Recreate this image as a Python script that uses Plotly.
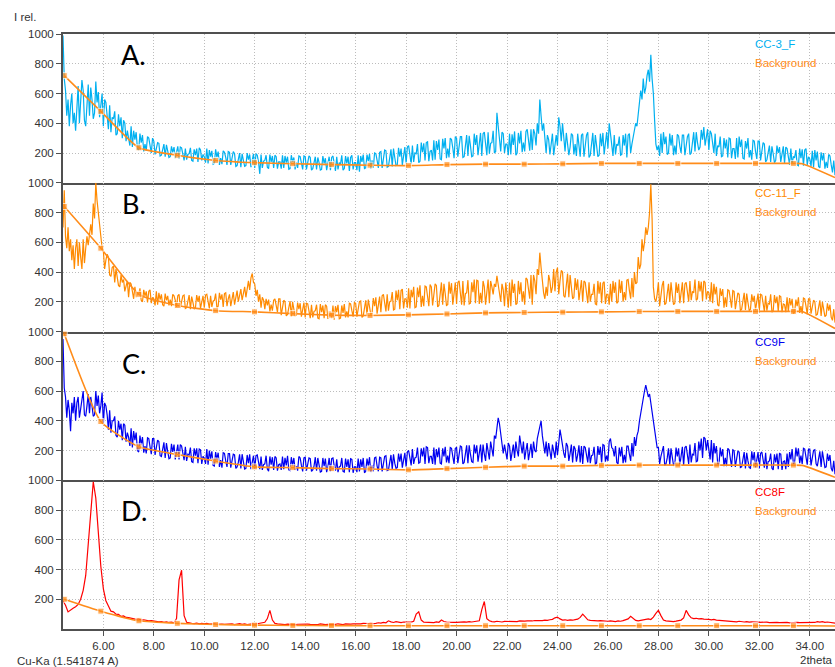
import numpy as np
import plotly.graph_objects as go
from plotly.subplots import make_subplots

# measurement grids (2theta)
theta_fine = np.round(np.arange(4.40, 35.025, 0.05), 2)   # 613 points, panels A-C
theta_coarse = np.round(np.arange(4.4, 35.05, 0.1), 1)    # 307 points, panel D

# ---- CC-3_F (panel A), 0.05 deg ----
cc3_rows = [
    [990, 700, 620, 450, 560, 380, 520, 600, 400, 470, 350, 540],
    [650, 400, 540, 690, 620, 420, 380, 520, 660, 450, 640, 560, 430, 470, 680, 540, 610, 440, 520, 600],
    [380, 560, 540, 460, 360, 520, 340, 440, 430, 480, 320, 330, 460, 380, 440, 300, 420, 400, 280, 350],
    [310, 250, 380, 240, 350, 290, 340, 230, 220, 330, 270, 320, 210, 260, 215, 310, 300, 250, 200, 300],
    [280, 190, 230, 270, 265, 180, 185, 220, 260, 175, 255, 215, 170, 175, 245, 205, 240, 165, 200, 245],
    [160, 240, 235, 195, 150, 230, 155, 190, 195, 235, 150, 145, 225, 185, 230, 140, 235, 220, 150, 190],
    [175, 135, 230, 130, 220, 175, 215, 125, 130, 225, 170, 210, 120, 165, 125, 215, 205, 170, 120, 210],
    [205, 120, 160, 210, 195, 110, 115, 155, 200, 105, 195, 150, 110, 115, 200, 155, 190, 105, 150, 195],
    [100, 195, 185, 140, 60, 190, 100, 145, 150, 185, 105, 95, 190, 140, 180, 100, 185, 175, 95, 140],
    [140, 95, 185, 100, 180, 135, 175, 90, 95, 185, 140, 170, 90, 135, 100, 180, 175, 135, 90, 180],
    [175, 90, 130, 180, 170, 85, 95, 130, 175, 90, 170, 135, 85, 90, 180, 130, 165, 85, 125, 175],
    [85, 170, 180, 130, 80, 175, 90, 135, 125, 185, 85, 95, 180, 130, 175, 80, 170, 185, 90, 135],
    [135, 85, 185, 75, 180, 140, 190, 95, 100, 190, 145, 195, 95, 150, 100, 200, 195, 150, 100, 205],
    [210, 100, 160, 220, 215, 105, 110, 165, 225, 110, 230, 170, 115, 120, 235, 175, 230, 120, 175, 240],
    [130, 240, 250, 190, 125, 250, 140, 200, 195, 260, 135, 145, 270, 205, 265, 150, 270, 275, 145, 210],
    [220, 150, 285, 155, 280, 220, 290, 160, 155, 295, 230, 300, 165, 230, 170, 300, 290, 235, 165, 310],
    [300, 175, 240, 310, 310, 170, 175, 250, 320, 180, 315, 250, 175, 180, 330, 255, 320, 185, 250, 335],
    [180, 330, 340, 260, 185, 340, 195, 265, 270, 350, 200, 210, 470, 380, 300, 210, 340, 330, 200, 260],
    [260, 185, 330, 190, 325, 255, 345, 185, 200, 335, 265, 350, 205, 270, 210, 345, 360, 275, 215, 360],
    [220, 360, 330, 250, 400, 330, 560, 450, 350, 400, 290, 200, 320, 290, 190, 250, 330, 185, 280, 320],
    [250, 440, 380, 280, 400, 300, 210, 335, 260, 185, 240, 330, 320, 190, 260, 180, 330, 240, 175, 320],
    [330, 175, 250, 320, 340, 170, 185, 255, 335, 180, 320, 250, 175, 185, 330, 245, 335, 190, 250, 340],
    [230, 400, 330, 250, 180, 320, 190, 260, 250, 310, 185, 190, 320, 250, 330, 170, 320, 330, 200, 260],
    [300, 350, 400, 380, 480, 520, 620, 560, 700, 600, 640, 720, 760, 680, 860, 700, 600, 420, 260, 220],
    [250, 180, 330, 200, 340, 260, 310, 190, 200, 330, 250, 320, 185, 250, 190, 325, 315, 245, 200, 320],
    [320, 185, 260, 310, 330, 190, 200, 270, 340, 210, 340, 270, 220, 240, 355, 290, 375, 250, 300, 360],
    [220, 350, 330, 260, 200, 330, 180, 250, 240, 310, 175, 180, 300, 230, 290, 170, 300, 295, 165, 230],
    [230, 160, 300, 170, 310, 240, 290, 165, 160, 280, 230, 300, 170, 220, 155, 285, 280, 210, 160, 280],
    [280, 150, 210, 270, 260, 140, 155, 200, 250, 140, 245, 195, 135, 150, 250, 200, 240, 140, 195, 245],
    [130, 240, 230, 180, 120, 230, 125, 175, 170, 220, 120, 115, 230, 165, 225, 115, 220, 230, 120, 175],
    [160, 110, 215, 105, 220, 150, 210, 110, 100, 205, 150, 200, 95, 140, 100, 190, 180, 120, 70, 150],
    [50],
]

# ---- CC-11_F (panel B), 0.05 deg ----
cc11_rows = [
    [700, 950, 640, 560, 700, 540, 620, 480, 580, 420, 560, 620],
    [440, 600, 500, 420, 620, 460, 560, 640, 580, 660, 720, 650, 860, 760, 1000, 880, 800, 700, 620, 560],
    [540, 420, 480, 520, 500, 380, 370, 430, 440, 330, 420, 360, 310, 300, 380, 330, 350, 270, 300, 340],
    [230, 330, 320, 270, 220, 300, 230, 260, 250, 290, 210, 200, 280, 240, 270, 195, 270, 280, 190, 230],
    [220, 175, 270, 180, 260, 215, 250, 180, 170, 255, 210, 240, 175, 215, 170, 250, 240, 210, 165, 240],
    [250, 160, 200, 240, 245, 155, 160, 200, 245, 150, 235, 195, 150, 160, 245, 200, 240, 155, 200, 240],
    [160, 245, 250, 210, 155, 240, 165, 205, 210, 255, 160, 170, 260, 215, 250, 165, 255, 260, 170, 220],
    [250, 170, 220, 265, 180, 240, 275, 200, 250, 285, 210, 270, 300, 230, 290, 340, 280, 360, 390, 330],
    [320, 240, 280, 200, 250, 160, 230, 210, 150, 220, 175, 215, 135, 180, 140, 210, 220, 175, 130, 220],
    [220, 110, 160, 210, 200, 105, 115, 155, 205, 100, 200, 150, 105, 110, 195, 150, 190, 100, 145, 195],
    [95, 190, 185, 140, 90, 180, 95, 135, 140, 180, 90, 85, 185, 130, 175, 90, 180, 170, 85, 130],
    [130, 90, 175, 80, 170, 130, 180, 85, 90, 175, 125, 185, 95, 135, 95, 190, 185, 140, 100, 195],
    [190, 100, 150, 200, 205, 95, 105, 155, 210, 110, 215, 165, 115, 120, 225, 170, 230, 120, 175, 235],
    [130, 240, 250, 190, 135, 250, 140, 200, 205, 265, 145, 150, 275, 210, 280, 150, 275, 285, 155, 220],
    [220, 160, 290, 155, 280, 230, 300, 160, 165, 295, 230, 310, 165, 240, 170, 305, 300, 235, 170, 315],
    [300, 175, 240, 320, 310, 165, 175, 245, 330, 180, 320, 255, 175, 180, 335, 255, 325, 180, 250, 330],
    [185, 330, 340, 260, 180, 340, 175, 255, 260, 345, 185, 190, 330, 265, 350, 190, 345, 340, 185, 260],
    [190, 340, 300, 180, 265, 350, 190, 340, 300, 250, 320, 300, 375, 320, 250, 200, 320, 280, 170, 330],
    [250, 160, 330, 170, 350, 260, 320, 180, 190, 340, 250, 330, 200, 270, 180, 360, 350, 280, 220, 380],
    [180, 380, 340, 250, 420, 380, 530, 430, 330, 260, 220, 300, 240, 380, 340, 260, 300, 420, 270, 400],
    [430, 250, 340, 410, 400, 240, 230, 320, 390, 230, 380, 300, 220, 230, 360, 280, 350, 210, 270, 345],
    [200, 340, 330, 260, 190, 330, 200, 250, 250, 320, 185, 180, 340, 255, 330, 190, 325, 335, 185, 250],
    [250, 180, 320, 200, 340, 260, 330, 190, 200, 350, 260, 340, 200, 265, 210, 345, 350, 275, 220, 360],
    [230, 400, 320, 330, 500, 420, 450, 620, 540, 600, 700, 650, 700, 800, 990, 760, 300, 220, 200, 250],
    [330, 170, 250, 310, 340, 180, 190, 260, 320, 200, 330, 250, 180, 190, 330, 260, 320, 190, 250, 330],
    [190, 320, 330, 260, 200, 340, 210, 270, 260, 350, 210, 220, 340, 270, 335, 205, 340, 330, 215, 270],
    [260, 200, 330, 190, 320, 250, 300, 180, 170, 290, 240, 285, 160, 230, 165, 280, 275, 220, 160, 275],
    [270, 150, 210, 260, 250, 140, 150, 200, 260, 145, 255, 195, 140, 150, 250, 200, 240, 145, 190, 255],
    [140, 250, 245, 190, 135, 240, 140, 190, 185, 250, 130, 140, 245, 190, 235, 135, 240, 235, 130, 185],
    [180, 130, 230, 135, 225, 175, 220, 120, 130, 215, 170, 230, 125, 170, 120, 225, 220, 170, 115, 220],
    [220, 120, 165, 210, 200, 110, 115, 160, 210, 105, 200, 150, 100, 110, 190, 140, 180, 95, 75, 150],
    [60],
]

# ---- CC9F (panel C), 0.05 deg ----
cc9_rows = [
    [950, 620, 560, 420, 540, 470, 330, 520, 450, 560, 400, 520],
    [560, 420, 480, 540, 600, 440, 430, 500, 580, 450, 560, 500, 430, 440, 600, 500, 570, 450, 500, 590],
    [380, 520, 500, 440, 340, 470, 320, 400, 400, 430, 300, 290, 400, 340, 380, 270, 380, 370, 260, 320],
    [290, 230, 350, 220, 330, 270, 320, 200, 190, 300, 240, 290, 185, 230, 180, 285, 280, 225, 175, 280],
    [280, 170, 220, 270, 260, 165, 160, 210, 255, 150, 250, 195, 145, 150, 245, 190, 240, 140, 185, 240],
    [140, 240, 230, 180, 135, 225, 130, 175, 170, 220, 125, 120, 215, 165, 215, 115, 210, 205, 110, 160],
    [150, 110, 210, 105, 200, 145, 195, 100, 95, 190, 140, 185, 90, 135, 85, 185, 180, 130, 90, 180],
    [180, 85, 125, 175, 170, 80, 90, 120, 175, 80, 175, 120, 75, 80, 170, 115, 175, 75, 115, 165],
    [80, 165, 170, 110, 75, 160, 70, 105, 110, 165, 75, 60, 160, 105, 155, 70, 160, 150, 65, 105],
    [110, 70, 160, 75, 150, 100, 165, 70, 65, 155, 100, 150, 70, 95, 65, 160, 150, 100, 60, 150],
    [155, 65, 100, 150, 145, 60, 70, 95, 155, 65, 150, 100, 55, 60, 150, 95, 145, 55, 90, 150],
    [60, 145, 150, 95, 65, 140, 55, 90, 95, 150, 60, 55, 145, 90, 140, 55, 145, 140, 50, 90],
    [90, 55, 145, 60, 140, 90, 150, 50, 60, 145, 95, 155, 55, 100, 60, 150, 155, 95, 60, 155],
    [150, 60, 100, 160, 165, 65, 70, 110, 170, 75, 175, 115, 80, 85, 180, 125, 180, 85, 125, 185],
    [90, 190, 200, 145, 100, 210, 110, 150, 155, 220, 115, 120, 215, 160, 220, 110, 225, 220, 115, 160],
    [160, 110, 220, 105, 210, 155, 220, 115, 110, 215, 160, 225, 120, 165, 115, 220, 215, 160, 110, 215],
    [220, 115, 165, 230, 225, 110, 120, 170, 235, 115, 235, 175, 125, 120, 240, 180, 235, 125, 175, 240],
    [120, 240, 175, 130, 250, 190, 140, 260, 200, 160, 300, 280, 350, 420, 380, 300, 220, 180, 240, 170],
    [140, 250, 230, 130, 180, 240, 150, 260, 200, 160, 300, 220, 180, 260, 140, 200, 250, 135, 190, 245],
    [150, 260, 200, 190, 280, 320, 340, 400, 300, 220, 180, 260, 160, 250, 190, 140, 240, 185, 150, 260],
    [170, 250, 340, 290, 220, 180, 150, 250, 230, 130, 180, 240, 120, 230, 210, 125, 170, 235, 120, 230],
    [110, 230, 220, 170, 120, 220, 115, 165, 170, 225, 110, 115, 230, 170, 225, 115, 240, 235, 125, 165],
    [130, 260, 280, 220, 210, 160, 230, 120, 110, 220, 160, 225, 115, 170, 120, 230, 230, 175, 130, 250],
    [160, 290, 230, 300, 330, 400, 450, 520, 580, 600, 640, 600, 560, 580, 520, 480, 400, 340, 280, 220],
    [220, 110, 160, 210, 230, 100, 110, 150, 215, 105, 215, 155, 100, 105, 220, 160, 215, 100, 150, 225],
    [100, 220, 230, 160, 110, 240, 120, 175, 170, 250, 125, 130, 260, 200, 280, 150, 290, 280, 200, 270],
    [200, 140, 270, 120, 250, 180, 230, 110, 100, 220, 160, 210, 95, 150, 95, 215, 205, 155, 90, 205],
    [200, 90, 145, 195, 190, 85, 90, 135, 190, 80, 185, 130, 85, 80, 195, 135, 190, 85, 140, 190],
    [80, 180, 190, 130, 85, 185, 75, 125, 130, 180, 80, 70, 175, 120, 180, 75, 180, 175, 70, 125],
    [130, 75, 180, 90, 190, 140, 210, 110, 120, 220, 160, 215, 115, 165, 110, 215, 210, 155, 105, 210],
    [210, 100, 150, 200, 205, 110, 95, 145, 195, 90, 195, 140, 85, 90, 180, 130, 170, 80, 60, 130],
    [40],
]

# ---- CC8F (panel D), 0.1 deg ----
cc8_rows = [
    [190, 160, 115, 130, 140, 150],
    [165, 200, 260, 360, 560, 780, 990, 880, 620, 420],
    [270, 190, 155, 120, 115, 100, 98, 85, 88, 78],
    [76, 72, 70, 65, 68, 60, 62, 58, 55, 56],
    [52, 50, 48, 50, 45, 48, 44, 46, 42, 70],
    [330, 395, 90, 45, 40, 38, 36, 40, 34, 38],
    [35, 38, 33, 36, 34, 32, 35, 33, 31, 34],
    [32, 35, 30, 33, 36, 31, 34, 30, 33, 35],
    [32, 34, 38, 40, 45, 70, 125, 60, 38, 34],
    [32, 35, 30, 33, 31, 34, 30, 32, 33, 31],
    [30, 33, 31, 29, 32, 30, 34, 31, 29, 32],
    [30, 33, 31, 35, 32, 30, 34, 31, 33, 35],
    [33, 36, 34, 38, 35, 37, 40, 36, 38, 42],
    [40, 45, 42, 55, 48, 44, 50, 46, 43, 47],
    [45, 48, 46, 52, 100, 115, 60, 46, 45, 44],
    [46, 43, 48, 45, 60, 50, 46, 44, 47, 45],
    [44, 47, 45, 48, 46, 50, 47, 49, 52, 55],
    [130, 185, 70, 55, 50, 48, 52, 50, 47, 51],
    [50, 53, 49, 52, 50, 54, 51, 53, 55, 52],
    [54, 57, 55, 58, 56, 60, 58, 62, 65, 75],
    [80, 68, 60, 62, 58, 61, 59, 63, 66, 78],
    [100, 82, 62, 58, 55, 57, 54, 56, 53, 55],
    [52, 55, 53, 50, 54, 52, 56, 60, 68, 85],
    [70, 58, 55, 58, 60, 62, 68, 64, 80, 105],
    [125, 90, 60, 55, 52, 54, 50, 53, 55, 60],
    [75, 125, 95, 75, 70, 72, 68, 70, 66, 68],
    [65, 62, 64, 60, 58, 56, 55, 52, 50, 53],
    [50, 48, 52, 49, 47, 50, 46, 48, 45, 47],
    [45, 47, 44, 46, 43, 45, 42, 44, 43, 45],
    [42, 44, 41, 43, 42, 45, 43, 44, 42, 46],
    [45, 48, 44, 50, 46, 49, 45, 47, 44, 46],
    [40],
]

# ---- Background curves (anchor points) ----
bg_x = [4.45, 5.9, 7.41, 8.93, 10.45, 11.99, 13.51, 15.04, 16.57, 18.09, 19.62,
        21.15, 22.68, 24.21, 25.74, 27.24, 28.77, 30.31, 31.85, 33.35, 33.7, 35.0]
bg_marked = [True] * 20 + [False, False]
bg_cc3 = [720, 480, 235, 185, 150, 135, 128, 122, 118, 115, 122, 125, 125, 127, 130, 130, 130, 130, 130, 130, 128, 35]
bg_cc11 = [840, 560, 250, 175, 140, 132, 120, 110, 108, 112, 118, 125, 128, 130, 132, 134, 135, 135, 135, 135, 134, 20]
bg_cc9 = [985, 395, 225, 173, 129, 90, 85, 78, 76, 70, 78, 87, 95, 95, 100, 102, 102, 102, 102, 102, 100, 20]
bg_cc8 = [200, 120, 55, 38, 30, 26, 24, 23, 22, 22, 22, 22, 22, 22, 22, 22, 22, 22, 22, 22, 22, 20]

x_ticks = [6, 8, 10, 12, 14, 16, 18, 20, 22, 24, 26, 28, 30, 32, 34]
y_ticks = [200, 400, 600, 800, 1000]


def flat(rows, grid, per_row):
    for k, r in enumerate(rows[1:-1]):
        assert len(r) == per_row, ("row", k + 1, len(r))
    out = [v for r in rows for v in r]
    assert len(out) == len(grid), (len(out), len(grid))
    return out


panels = [
    (theta_fine, flat(cc3_rows, theta_fine, 20), bg_cc3, "#00B0F0", "CC-3_F", "A.", 0.862, 0.933, 0.805, 1.2),
    (theta_fine, flat(cc11_rows, theta_fine, 20), bg_cc11, "#FF8A00", "CC-11_F", "B.", 0.859, 0.931, 0.803, 1.2),
    (theta_fine, flat(cc9_rows, theta_fine, 20), bg_cc9, "#0000F0", "CC9F", "C.", 0.782, 0.929, 0.802, 1.2),
    (theta_coarse, flat(cc8_rows, theta_coarse, 10), bg_cc8, "#FF0000", "CC8F", "D.", 0.798, 0.921, 0.793, 1.2),
]
BG_COLOR = "#FF8C1A"
AXIS_COLOR = "#505050"
GRID_COLOR = "#bcbcbc"
TXT = "#333333"
FONT = "Liberation Sans, Arial, sans-serif"

fig = make_subplots(rows=4, cols=1, shared_xaxes=True, vertical_spacing=0)

annotations = []
for i, (xs, vals, bg, col, name, letter, ly, ny, bgy, lw) in enumerate(panels, start=1):
    fig.add_trace(go.Scatter(x=xs, y=vals, mode="lines",
                             line=dict(color=col, width=lw), name=name,
                             showlegend=False), row=i, col=1)
    fig.add_trace(go.Scatter(x=bg_x, y=bg, mode="lines+markers",
                             line=dict(color=BG_COLOR, width=1.6, shape="spline", smoothing=0.5),
                             marker=dict(symbol="square", size=[6 if m else 0 for m in bg_marked],
                                         color=BG_COLOR),
                             name="Background", showlegend=False), row=i, col=1)
    yd = "y domain" if i == 1 else f"y{i} domain"
    xr = "x" if i == 1 else f"x{i}"
    annotations.append(dict(text=letter, x=7.21, xref=xr, y=ly, yref=yd,
                            xanchor="center", yanchor="middle", showarrow=False,
                            font=dict(family="Lato, sans-serif", size=27, color="#000000")))
    annotations.append(dict(text=name, x=31.75, xref=xr, y=ny, yref=yd,
                            xanchor="left", yanchor="middle", showarrow=False,
                            font=dict(family=FONT, size=11.5, color=col)))
    annotations.append(dict(text="Background", x=31.75, xref=xr, y=bgy, yref=yd,
                            xanchor="left", yanchor="middle", showarrow=False,
                            font=dict(family=FONT, size=11.5, color=BG_COLOR)))

annotations += [
    dict(text="I rel.", x=-0.066, y=1.0286, xref="paper", yref="paper",
         xanchor="left", yanchor="middle", showarrow=False,
         font=dict(family=FONT, size=11.5, color=TXT)),
    dict(text="Cu-Ka (1.541874 A)", x=-0.0622, y=-0.0538, xref="paper", yref="paper",
         xanchor="left", yanchor="middle", showarrow=False,
         font=dict(family=FONT, size=11.5, color=TXT)),
    dict(text="2theta", x=1.0, y=-0.0521, xref="paper", yref="paper",
         xanchor="right", yanchor="middle", showarrow=False,
         font=dict(family=FONT, size=11.5, color=TXT)),
]

for i in range(1, 5):
    fig.update_xaxes(range=[4.4, 35.0], tickvals=x_ticks, tickformat=".2f",
                     showgrid=True, gridcolor=GRID_COLOR, griddash="1px,2px", gridwidth=1,
                     showline=True, linecolor=AXIS_COLOR, linewidth=2, mirror=(i == 1),
                     zeroline=False, ticks="outside" if i == 4 else "",
                     ticklen=5, tickcolor=AXIS_COLOR,
                     showticklabels=(i == 4),
                     tickfont=dict(family=FONT, size=11.5, color=TXT),
                     row=i, col=1)
    fig.update_yaxes(range=[0, 1000], tickvals=y_ticks,
                     showgrid=True, gridcolor=GRID_COLOR, griddash="1px,2px", gridwidth=1,
                     showline=True, linecolor=AXIS_COLOR, linewidth=2, mirror=False,
                     zeroline=False, ticks="outside", ticklen=5, tickcolor=AXIS_COLOR,
                     tickfont=dict(family=FONT, size=11.5, color=TXT),
                     row=i, col=1)

fig.update_layout(width=835, height=667,
                  margin=dict(l=63, r=0, t=34, b=38),
                  paper_bgcolor="white", plot_bgcolor="white",
                  showlegend=False, annotations=annotations)

fig.write_html("out.html", config={"displayModeBar": False},
               post_script="document.body.style.margin='0px';document.body.style.padding='0px';")
